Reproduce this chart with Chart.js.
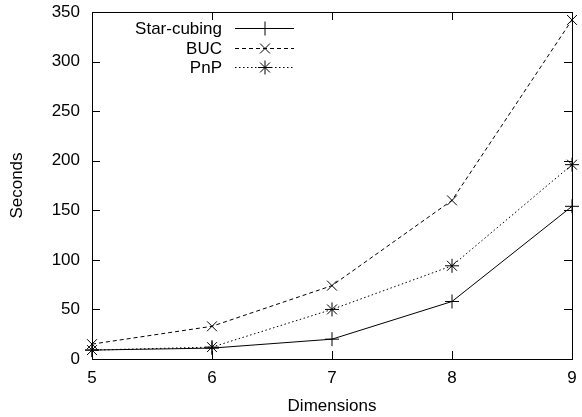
<!DOCTYPE html>
<html>
<head>
<meta charset="utf-8">
<script src="https://cdn.jsdelivr.net/npm/chart.js@4/dist/chart.umd.min.js"></script>
<style>
  html, body { margin: 0; padding: 0; background: #fff; }
  #wrap { width: 582px; height: 417px; }
</style>
</head>
<body>
<div id="wrap"><canvas id="c" width="582" height="417"></canvas></div>
<script>
// Cube computation time by number of dimensions
const dimensions = [5, 6, 7, 8, 9];
const starCubing = [9, 11, 20, 58, 154];
const buc = [15, 33, 74, 160, 342];
const pnp = [9, 12, 50, 94, 196];
const yTicks = [0, 50, 100, 150, 200, 250, 300, 350];

const FONT = "'Liberation Sans', Arial, Helvetica, sans-serif";
const FS = 17;

function pts(vals) { return dimensions.map((d, i) => ({ x: d, y: vals[i] })); }

// Frame with inward ticks on all four sides
const framePlugin = {
  id: 'frame',
  afterDatasetsDraw(chart) {
    const { ctx, chartArea: a, scales } = chart;
    const t = 8;
    ctx.save();
    ctx.strokeStyle = '#000';
    ctx.lineWidth = 1;
    ctx.beginPath();
    dimensions.forEach(d => {
      const x = Math.round(scales.x.getPixelForValue(d)) + 0.5;
      ctx.moveTo(x, a.bottom); ctx.lineTo(x, a.bottom - t);
      ctx.moveTo(x, a.top); ctx.lineTo(x, a.top + t);
    });
    yTicks.forEach(v => {
      const y = Math.round(scales.y.getPixelForValue(v)) + 0.5;
      ctx.moveTo(a.left, y); ctx.lineTo(a.left + t, y);
      ctx.moveTo(a.right, y); ctx.lineTo(a.right - t, y);
    });
    ctx.stroke();
    ctx.strokeRect(Math.round(a.left) + 0.5, Math.round(a.top) + 0.5,
      Math.round(a.right - a.left), Math.round(a.bottom - a.top));
    ctx.restore();
  }
};

// Key: label right-aligned, then a line sample with its marker
const keyPlugin = {
  id: 'key',
  afterDatasetsDraw(chart) {
    const { ctx } = chart;
    const rows = [28, 48, 67];
    ctx.save();
    ctx.font = FS + 'px ' + FONT;
    ctx.textAlign = 'right';
    ctx.textBaseline = 'middle';
    chart.data.datasets.forEach((ds, i) => {
      const y = rows[i];
      ctx.fillStyle = '#000';
      ctx.fillText(ds.label, 222, y + 1);
      ctx.save();
      ctx.strokeStyle = '#000';
      ctx.lineWidth = 1;
      ctx.setLineDash(ds.borderDash || []);
      ctx.beginPath();
      ctx.moveTo(235, y + 0.5); ctx.lineTo(294, y + 0.5);
      ctx.stroke();
      ctx.restore();
      ctx.strokeStyle = '#000';
      ctx.lineWidth = 1;
      Chart.helpers.drawPoint(ctx, {
        pointStyle: ds.pointStyle, radius: ds.pointRadius, rotation: 0,
        borderWidth: 1
      }, 265, y + 0.5);
    });
    ctx.restore();
  }
};

const common = {
  borderColor: '#000', backgroundColor: '#000',
  pointBorderColor: '#000', pointBackgroundColor: '#000',
  borderWidth: 1, pointBorderWidth: 1, pointRadius: 7, pointHoverRadius: 7,
  tension: 0, fill: false, clip: false, showLine: true
};

new Chart(document.getElementById('c'), {
  type: 'scatter',
  data: {
    datasets: [
      Object.assign({}, common, { label: 'Star-cubing', data: pts(starCubing), pointStyle: 'cross', borderDash: [] }),
      Object.assign({}, common, { label: 'BUC', data: pts(buc), pointStyle: 'crossRot', borderDash: [4, 3] }),
      Object.assign({}, common, { label: 'PnP', data: pts(pnp), pointStyle: 'star', borderDash: [1.5, 2.5] })
    ]
  },
  options: {
    responsive: false,
    animation: false,
    devicePixelRatio: 1,
    layout: { padding: { top: 12, right: 10, left: 0, bottom: 0 } },
    plugins: { legend: { display: false }, tooltip: { enabled: false } },
    scales: {
      x: {
        type: 'linear', min: 5, max: 9,
        afterBuildTicks: s => { s.ticks = dimensions.map(v => ({ value: v })); },
        afterFit: s => { s.height = 58; s.paddingLeft = 0; s.paddingRight = 0; },
        grid: { display: false, drawTicks: false },
        border: { display: false },
        ticks: { color: '#000', font: { family: FONT, size: FS }, padding: 9, maxRotation: 0 },
        title: { display: true, text: 'Dimensions', color: '#000', font: { family: FONT, size: FS }, padding: { top: 0, bottom: 0 } }
      },
      y: {
        type: 'linear', min: 0, max: 350,
        afterBuildTicks: s => { s.ticks = yTicks.map(v => ({ value: v })); },
        afterFit: s => { s.width = 92; s.paddingTop = 0; s.paddingBottom = 0; },
        grid: { display: false, drawTicks: false },
        border: { display: false },
        ticks: { color: '#000', font: { family: FONT, size: FS }, padding: 12 },
        title: { display: true, text: 'Seconds', color: '#000', font: { family: FONT, size: FS }, padding: { top: 7, bottom: 0 } }
      }
    }
  },
  plugins: [framePlugin, keyPlugin]
});
</script>
</body>
</html>
